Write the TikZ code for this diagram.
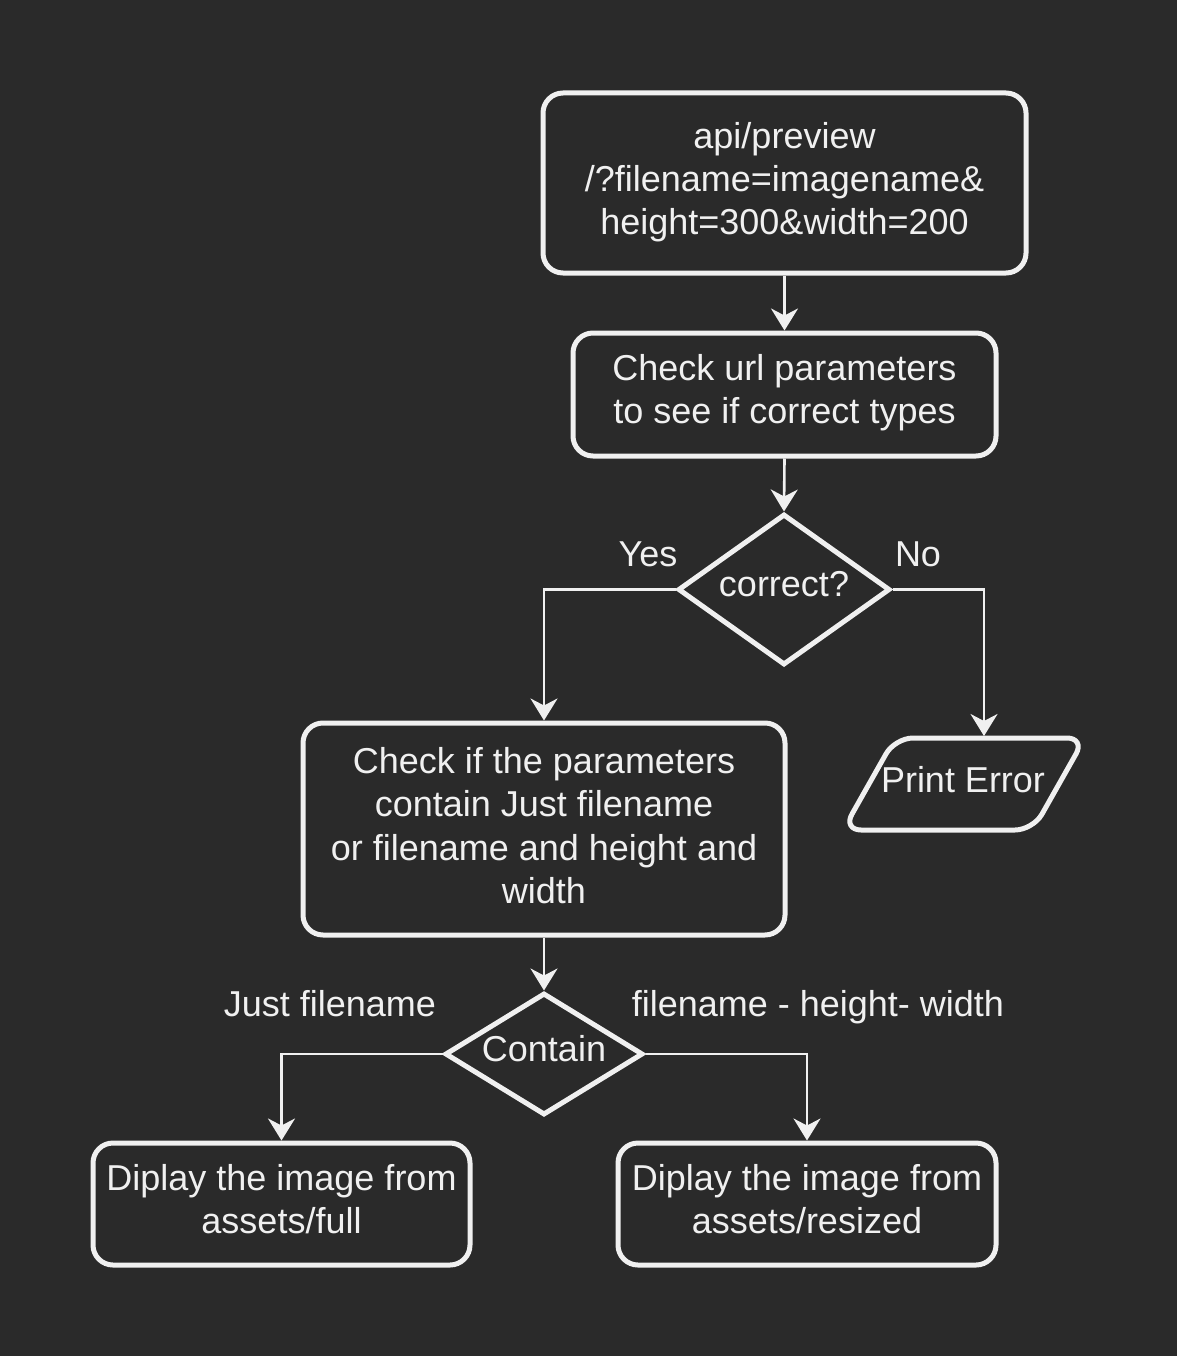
\documentclass[tikz,border=0pt]{standalone}
\usepackage{fontspec}
\setmainfont{Liberation Sans}
\usetikzlibrary{arrows.meta,shapes.geometric}
\definecolor{bg}{HTML}{2A2A2A}
\definecolor{fg}{HTML}{F0F0F0}
\begin{document}
\begin{tikzpicture}[x=1pt,y=-1pt,
  every node/.style={text=fg,font=\fontsize{36}{43.3}\selectfont,align=center},
  procbox/.style={draw=fg,line width=5pt,rounded corners=20pt,inner sep=0pt},
  decision/.style={draw=fg,line width=5pt,diamond,inner sep=0pt},
  conn/.style={draw=fg,line width=2.6pt,-{Stealth[length=22pt,width=27pt,inset=7pt]}},
  boxtext/.style={inner sep=0pt},
  lbl/.style={inner sep=0pt,text height=26pt,text depth=8pt,yshift=-3pt}]
\useasboundingbox (0,0) rectangle (1176,1356);
\fill[bg] (-5,-5) rectangle (1181,1361);
\node[procbox,minimum width=483pt,minimum height=180pt] (b1) at (784.5,183) {};
\node[boxtext] (b1t) at (784.5,182) {api/preview\\/?filename=imagename\&\\height=300\&width=200};
\node[procbox,minimum width=423pt,minimum height=123pt] (b2) at (784.5,394.5) {};
\node[boxtext] (b2t) at (784.5,393) {Check url parameters\\to see if correct types};
\node[decision,minimum width=212pt,minimum height=151pt] (d1) at (784,589.5) {};
\node[lbl] (d1t) at (784,584) {correct?};
\node[procbox,minimum width=482pt,minimum height=212pt] (b3) at (544,829) {};
\node[boxtext] (b3t) at (544,825.5) {Check if the parameters\\contain Just filename\\or filename and height and\\width};
% parallelogram
\draw[fg,line width=5pt,rounded corners=18pt] (843,830) -- (895,738) -- (1085,738) -- (1033,830) -- cycle;
\coordinate (pe) at (984,736);
\node[lbl] (pet) at (963,780) {Print Error};
\node[decision,minimum width=198pt,minimum height=122pt] (d2) at (544,1054) {};
\node[lbl] (d2t) at (544,1049) {Contain};
\node[procbox,minimum width=377pt,minimum height=122pt] (b4) at (281.5,1204) {};
\node[boxtext] (b4t) at (281.5,1199) {Diplay the image from\\assets/full};
\node[procbox,minimum width=378pt,minimum height=122pt] (b5) at (807,1204) {};
\node[boxtext] (b5t) at (807,1199) {Diplay the image from\\assets/resized};
% labels
\node[lbl] (yes) at (648,554) {Yes};
\node[lbl] (no) at (918,554) {No};
\node[lbl] (jf) at (330,1004) {Just filename};
\node[lbl] (fhw) at (818,1004) {filename - height- width};
% connectors
\draw[conn] (b1.south) -- (b2.north);
\draw[conn] (b2.south) -- (d1.north);
\draw[conn] (d1.west) -| (b3.north);
\draw[conn] (d1.east) -| (pe);
\draw[conn] (b3.south) -- (d2.north);
\draw[conn] (d2.west) -| (b4.north);
\draw[conn] (d2.east) -| (b5.north);
\end{tikzpicture}
\end{document}
